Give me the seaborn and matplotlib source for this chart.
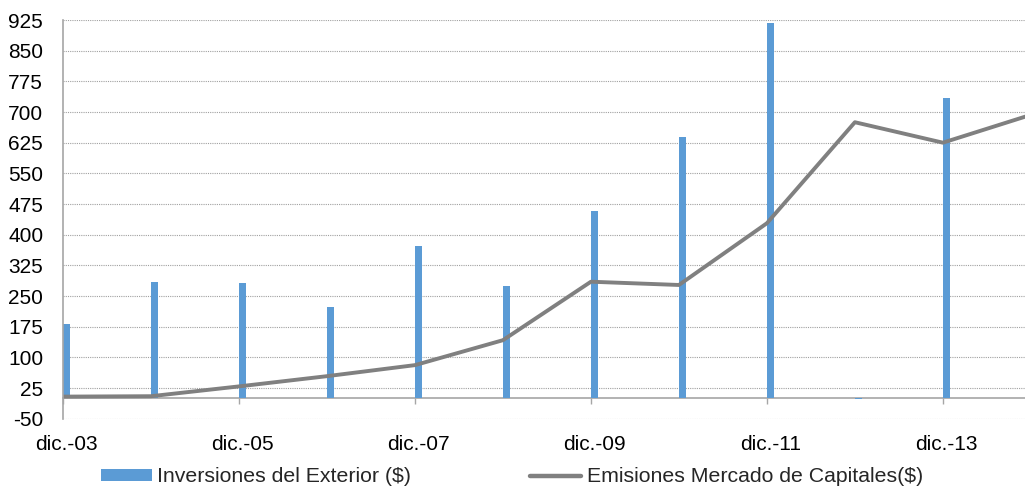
import numpy as np
import pandas as pd
import matplotlib
matplotlib.use("Agg")
import matplotlib.pyplot as plt
from matplotlib.patches import Patch
from matplotlib.lines import Line2D
import seaborn as sns

# ---- data -------------------------------------------------------------
anios = list(range(2003, 2015))
etiquetas = ["dic.-03", "dic.-04", "dic.-05", "dic.-06", "dic.-07", "dic.-08",
             "dic.-09", "dic.-10", "dic.-11", "dic.-12", "dic.-13", "dic.-14"]
inversiones = [181, 285, 283, 224, 373, 274, 458, 639, 918, -2, 734, np.nan]
emisiones = [4, 5, 29, 54, 81, 142, 285, 277, 428, 675, 625, 693]
serie_barras = "Inversiones del Exterior ($)"
serie_linea = "Emisiones Mercado de Capitales($)"

AZUL = "#5B9BD5"
GRIS_LINEA = "#808080"
GRIS_EJE = "#A6A6A6"
GRIS_GRID = "#A0A0A0"

# date axis measured in months from the first December
meses = [12 * (a - anios[0]) for a in anios]
df = pd.DataFrame({
    "mes": meses,
    "centro": [m + 0.5 for m in meses],   # each bar fills its own month
    "inversiones": inversiones,
    "emisiones": emisiones,
})

sns.set_style("white")
plt.rcParams["font.family"] = ["Liberation Sans", "DejaVu Sans"]
plt.rcParams["axes.unicode_minus"] = False

fig = plt.figure(figsize=(10.25, 4.92), dpi=100)
ax = fig.add_axes([63 / 1025, 1 - 418.7 / 492, (1025 - 63) / 1025, (418.7 - 20) / 492])

sns.barplot(data=df, x="centro", y="inversiones", native_scale=True,
            width=1 / 12, color=AZUL, saturation=1, errorbar=None,
            linewidth=0, ax=ax)
# one month wide bars, starting at their December
for barra in ax.patches:
    centro = barra.get_x() + barra.get_width() / 2
    barra.set_x(centro - 0.5)
    barra.set_width(1.0)

sns.lineplot(data=df, x="mes", y="emisiones", color=GRIS_LINEA,
             linewidth=2.8, ax=ax)

ymin, ymax = -50, 925
ax.set_ylim(ymin, ymax)
ax.set_xlim(0, 131.2)
ax.set_yticks(np.arange(ymin, ymax + 1, 75))
ax.set_xticks([m + 0.5 for m in meses[::2]])
ax.set_xticklabels(etiquetas[::2])
ax.set_xlabel("")
ax.set_ylabel("")

ax.grid(axis="y", color=GRIS_GRID, linestyle=(0, (1, 1)), linewidth=0.8)
ax.grid(axis="x", visible=False)
ax.set_axisbelow(True)

for lado in ("top", "right", "bottom"):
    ax.spines[lado].set_visible(False)
ax.spines["left"].set_color(GRIS_EJE)
ax.spines["left"].set_linewidth(1.2)

ax.tick_params(axis="y", length=4.3, width=1, color=GRIS_EJE, direction="out",
               pad=10, labelsize=15, labelcolor="black")
ax.tick_params(axis="x", length=0, pad=12, labelsize=15, labelcolor="black")

# category axis drawn at the zero level
sec = ax.secondary_xaxis((0 - ymin) / (ymax - ymin))
sec.set_xticks(meses[::2])
sec.tick_params(length=4.3, width=1, color=GRIS_EJE, direction="out",
                labelbottom=False, labeltop=False)
for s in sec.spines.values():
    s.set_color(GRIS_EJE)
    s.set_linewidth(1.2)

handles = [
    Patch(facecolor=AZUL, edgecolor="none"),
    Line2D([0], [0], color=GRIS_LINEA, linewidth=3.2),
]
fig.legend(handles, [serie_barras, serie_linea], loc="center",
           bbox_to_anchor=(0.4995, 1 - 477 / 492), ncol=2, frameon=False,
           fontsize=15.3, handlelength=2.4, handletextpad=0.26,
           columnspacing=5.6, handleheight=0.52, borderpad=0,
           borderaxespad=0)

fig.savefig("out.png", dpi=100)
